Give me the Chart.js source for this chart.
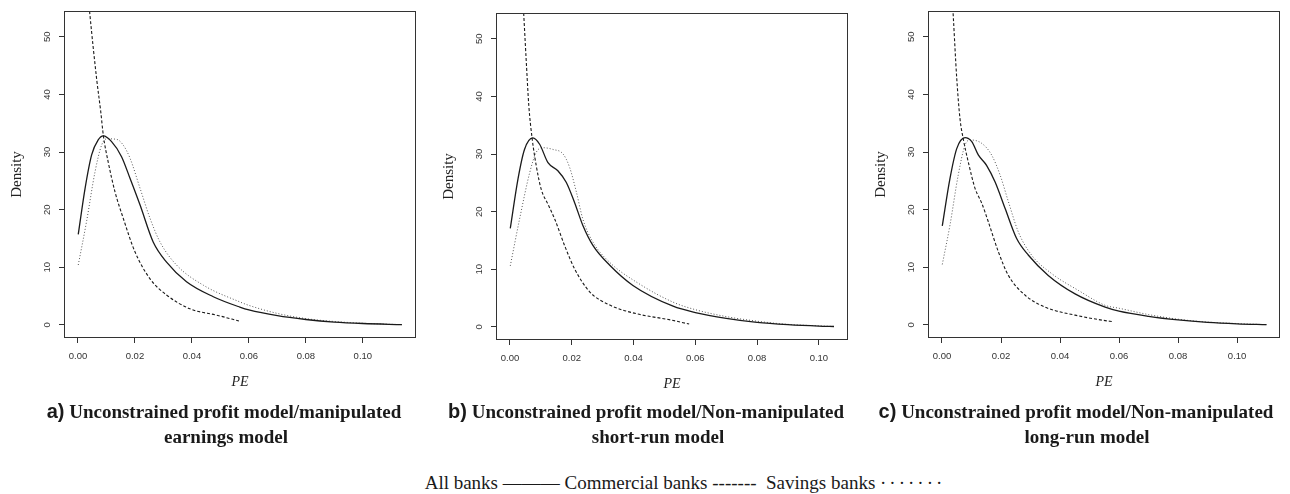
<!DOCTYPE html>
<html lang="en">
<head>
  <meta charset="UTF-8" />
  <title>PE density by bank type</title>
  <script src="https://cdn.jsdelivr.net/npm/chart.js"></script>
  <style>
    body {
      margin: 0;
      width: 1290px;
      height: 494px;
      position: relative;
      overflow: hidden;
      background: #fff;
      color: #1a1a1a;
      font-family: "Liberation Serif", serif;
    }
    .panel { position: absolute; }
    .cap {
      position: absolute;
      width: 520px;
      text-align: center;
      font-weight: bold;
      font-size: 19px;
      line-height: 24px;
      white-space: nowrap;
    }
    .cap .tag { font-family: "Liberation Sans", sans-serif; font-size: 20px; }
    #legend {
      position: absolute;
      left: 385px;
      width: 600px;
      top: 471px;
      text-align: center;
      font-size: 19px;
      line-height: 24px;
      white-space: nowrap;
    }
    #legend .dots { letter-spacing: 3px; }
  </style>
</head>
<body>

  <canvas id="chartA" class="panel" width="426" height="400" style="left:0px;top:0px"></canvas>
  <canvas id="chartB" class="panel" width="426" height="400" style="left:432px;top:2px"></canvas>
  <canvas id="chartC" class="panel" width="426" height="400" style="left:864px;top:0px"></canvas>

  <!-- captions -->
  <div class="cap" style="left:-36px;top:399px"><span class="tag">a)</span> Unconstrained profit model/manipulated</div>
  <div class="cap" style="left:-34px;top:425px">earnings model</div>
  <div class="cap" style="left:386px;top:399px"><span class="tag">b)</span> Unconstrained profit model/Non-manipulated</div>
  <div class="cap" style="left:398px;top:425px">short-run model</div>
  <div class="cap" style="left:816px;top:399px"><span class="tag">c)</span> Unconstrained profit model/Non-manipulated</div>
  <div class="cap" style="left:827px;top:425px">long-run model</div>

  <div id="legend">All banks ——— Commercial banks -------&nbsp; Savings banks <span class="dots">·······</span></div>

  <script>
    const xTickVals = [0, 0.02, 0.04, 0.06, 0.08, 0.10];
    const yTickVals = [0, 10, 20, 30, 40, 50];

    // a) manipulated earnings model
    const allA_pe  = [0.0001, 0.0025, 0.0048, 0.0071, 0.0089, 0.0118, 0.0153, 0.0183, 0.0218, 0.0264, 0.0311, 0.0381, 0.0475, 0.0568, 0.06, 0.07, 0.08, 0.09, 0.10, 0.1137];
    const allA_den = [15.7, 23.7, 29.5, 32.1, 32.8, 31.8, 29.2, 25.4, 20.8, 14.4, 10.9, 7.5, 4.9, 3.1, 2.6, 1.6, 0.95, 0.5, 0.25, 0.05];
    const comA_pe  = [0.0030, 0.0042, 0.0066, 0.0080, 0.0089, 0.0106, 0.0130, 0.0159, 0.0200, 0.0253, 0.0311, 0.0393, 0.0487, 0.0565];
    const comA_den = [60.5, 53.8, 42.5, 37.0, 32.9, 28.3, 23.1, 18.5, 12.7, 8.0, 5.2, 2.8, 1.7, 0.7];
    const savA_pe  = [0.0001, 0.0030, 0.0060, 0.0083, 0.0101, 0.0136, 0.0159, 0.0183, 0.0218, 0.0253, 0.0288, 0.0346, 0.0440, 0.0568, 0.06, 0.07, 0.08, 0.09, 0.10, 0.1137];
    const savA_den = [10.4, 17.9, 26.6, 31.2, 32.3, 32.2, 31.2, 28.9, 23.7, 18.5, 14.4, 10.4, 6.9, 4.0, 3.4, 2.0, 1.1, 0.6, 0.3, 0.05];

    // b) non-manipulated short-run model
    const allB_pe  = [0.0001, 0.0026, 0.0047, 0.0074, 0.0096, 0.0123, 0.0155, 0.0182, 0.0209, 0.0236, 0.0269, 0.0323, 0.0398, 0.0528, 0.06, 0.07, 0.08, 0.09, 0.10, 0.1049];
    const allB_den = [17.1, 25.7, 30.8, 32.8, 31.7, 28.5, 27.1, 25.1, 21.6, 17.6, 14.1, 10.7, 7.2, 3.6, 2.5, 1.5, 0.8, 0.4, 0.15, 0.08];
    const comB_pe  = [0.0040, 0.0045, 0.0053, 0.0061, 0.0072, 0.0085, 0.0101, 0.0123, 0.0145, 0.0177, 0.0209, 0.0258, 0.0323, 0.0409, 0.0522, 0.0580];
    const comB_den = [58.8, 53.8, 45.8, 38.4, 32.6, 28.0, 23.9, 21.3, 18.7, 14.1, 10.1, 6.1, 3.8, 2.3, 1.2, 0.5];
    const savB_pe  = [0.0001, 0.0031, 0.0064, 0.0085, 0.0107, 0.0139, 0.0172, 0.0193, 0.0215, 0.0236, 0.0269, 0.0323, 0.0409, 0.0528, 0.06, 0.07, 0.08, 0.09, 0.10, 0.1049];
    const savB_den = [10.6, 18.7, 26.8, 30.3, 31.1, 30.8, 30.0, 27.7, 23.4, 18.7, 14.7, 11.2, 7.8, 4.3, 3.0, 1.8, 1.0, 0.45, 0.2, 0.08];

    // c) non-manipulated long-run model
    const allC_pe  = [0.0001, 0.0027, 0.0050, 0.0078, 0.0101, 0.0123, 0.0151, 0.0180, 0.0214, 0.0253, 0.0293, 0.0360, 0.0451, 0.0553, 0.06, 0.07, 0.08, 0.09, 0.10, 0.1100];
    const allC_den = [17.2, 25.4, 30.6, 32.5, 31.8, 29.5, 27.7, 24.8, 20.2, 15.0, 12.1, 8.6, 5.4, 3.1, 2.4, 1.5, 0.87, 0.45, 0.2, 0.05];
    const comC_pe  = [0.0030, 0.0038, 0.0050, 0.0061, 0.0072, 0.0089, 0.0112, 0.0135, 0.0157, 0.0191, 0.0225, 0.0281, 0.0349, 0.0451, 0.0547, 0.0580];
    const comC_den = [61.0, 53.8, 42.8, 35.8, 32.3, 28.3, 23.7, 21.1, 17.9, 12.7, 8.6, 5.2, 3.1, 1.7, 0.8, 0.57];
    const savC_pe  = [0.0001, 0.0027, 0.0055, 0.0078, 0.0095, 0.0135, 0.0168, 0.0197, 0.0225, 0.0259, 0.0304, 0.0372, 0.0462, 0.0553, 0.06, 0.07, 0.08, 0.09, 0.10, 0.1100];
    const savC_den = [10.5, 17.3, 26.0, 31.2, 32.1, 31.5, 29.5, 26.0, 21.4, 16.1, 12.1, 8.9, 6.0, 3.4, 2.9, 1.8, 1.0, 0.5, 0.25, 0.05];

    const toPoints = (pe, den) => pe.map((x, i) => ({ x, y: den[i] }));

    // R-style box around the plot region
    const boxPlugin = {
      id: 'box',
      afterDraw(chart) {
        const { ctx, chartArea: a } = chart;
        ctx.save();
        ctx.strokeStyle = '#333';
        ctx.lineWidth = 1;
        ctx.strokeRect(a.left - 0.5, a.top - 0.5, a.right - a.left + 1, a.bottom - a.top + 1);
        ctx.restore();
      }
    };

    const tickFont = { family: 'Liberation Sans', size: 9.5 };

    const makePanel = (id, xMin, xMax, all, com, sav) => {
      new Chart(document.getElementById(id), {
        type: 'line',
        data: {
          datasets: [
            { label: 'All banks', data: all, borderColor: '#1a1a1a', borderWidth: 1.3 },
            { label: 'Commercial banks', data: com, borderColor: '#1a1a1a', borderWidth: 1.1, borderDash: [3, 2] },
            { label: 'Savings banks', data: sav, borderColor: '#555', borderWidth: 1, borderDash: [1, 2] }
          ]
        },
        options: {
          responsive: false,
          animation: false,
          layout: { padding: { top: 12, right: 11, left: 0, bottom: 0 } },
          elements: {
            point: { radius: 0 },
            line: { cubicInterpolationMode: 'monotone', fill: false }
          },
          plugins: { legend: { display: false }, tooltip: { enabled: false } },
          scales: {
            x: {
              type: 'linear',
              min: xMin,
              max: xMax,
              afterBuildTicks: s => { s.ticks = xTickVals.map(v => ({ value: v })); },
              afterFit: s => { s.height = 63; },
              ticks: { font: tickFont, color: '#333', padding: 8, maxRotation: 0, callback: v => v.toFixed(2) },
              grid: { drawOnChartArea: false, drawTicks: true, tickLength: 6, color: '#333' },
              border: { display: false },
              title: { display: true, text: 'PE', color: '#222', padding: { top: 0, bottom: 9 },
                       font: { family: 'Liberation Serif', size: 14, style: 'italic' } }
            },
            y: {
              min: -2.09,
              max: 54.3,
              afterBuildTicks: s => { s.ticks = yTickVals.map(v => ({ value: v })); },
              afterFit: s => { s.width = 65; },
              ticks: { font: tickFont, color: '#333', padding: 6, minRotation: 90, maxRotation: 90, crossAlign: 'center' },
              grid: { drawOnChartArea: false, drawTicks: true, tickLength: 6, color: '#333' },
              border: { display: false },
              title: { display: true, text: 'Density', color: '#222', padding: { top: 8, bottom: 0 },
                       font: { family: 'Liberation Serif', size: 15 } }
            }
          }
        },
        plugins: [boxPlugin]
      });
    };

    makePanel('chartA', -0.00455, 0.1183,
      toPoints(allA_pe, allA_den), toPoints(comA_pe, comA_den), toPoints(savA_pe, savA_den));
    makePanel('chartB', -0.0042, 0.1091,
      toPoints(allB_pe, allB_den), toPoints(comB_pe, comB_den), toPoints(savB_pe, savB_den));
    makePanel('chartC', -0.0044, 0.1142,
      toPoints(allC_pe, allC_den), toPoints(comC_pe, comC_den), toPoints(savC_pe, savC_den));
  </script>

</body>
</html>
